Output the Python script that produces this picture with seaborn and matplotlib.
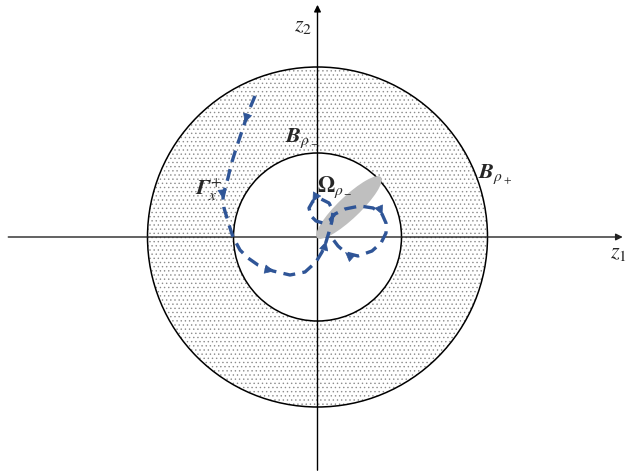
import numpy as np
import seaborn as sns
import matplotlib.pyplot as plt
from matplotlib.patches import Circle, Wedge, Ellipse

sns.set_style('white')
plt.rcParams['mathtext.fontset'] = 'stix'
plt.rcParams['hatch.linewidth'] = 0.5

# radii of the two balls (pixels of the original drawing)
r_minus = 84
r_plus = 170

# gray set Omega: centre, length, width, angle
omega_center = (31.5, 29.5)
omega_len = 88
omega_wid = 22
omega_angle = 43.6

# trajectory (pixel x, pixel y of the original)
path_px = [255, 250, 245, 240, 235, 231, 228, 225, 223, 224, 227, 230, 233,
           240, 248, 258, 273, 290, 305, 316, 322, 326, 329, 332,
           333, 329, 321, 313, 309, 311, 316, 323, 330, 335,
           345, 360, 373, 382, 386, 386, 381, 372, 358, 346, 338, 332]
path_py = [96, 108, 122, 137, 152, 165, 178, 188, 198, 208, 218, 228, 237,
           250, 258, 265, 271, 275, 272, 262, 252, 242, 232, 221,
           211, 203, 199, 201, 208, 216, 221, 223, 220, 214,
           209, 206, 208, 214, 223, 233, 243, 251, 256, 253, 246, 238]
arrow_idx = [2, 8, 16, 21, 27, 37, 43]

cx, cy = 317.5, 237
tx = np.array(path_px) - cx
ty = cy - np.array(path_py)

fig = plt.figure(figsize=(6.28, 4.75), dpi=100)
ax = fig.add_axes([0, 0, 1, 1])
ax.set_xlim(-317.5, 310.5)
ax.set_ylim(-238, 237)
ax.set_aspect('equal')
ax.axis('off')

# dotted annulus
ax.add_patch(Wedge((0, 0), r_plus, 0, 360, width=r_plus - r_minus,
                   facecolor='white', edgecolor='#8c8c8c', lw=0, hatch='....', zorder=1))
ax.add_patch(Circle((0, 0), r_plus, fill=False, ec='black', lw=1.1, zorder=2))
ax.add_patch(Circle((0, 0), r_minus, fill=False, ec='black', lw=1.1, zorder=2))

# axes with arrows
ax.annotate('', xy=(308, 0), xytext=(-312, 0),
            arrowprops=dict(arrowstyle='-|>', color='#222222', lw=1, mutation_scale=10), zorder=3)
ax.annotate('', xy=(0, 235), xytext=(0, -236),
            arrowprops=dict(arrowstyle='-|>', color='black', lw=1, mutation_scale=10), zorder=3)

ax.add_patch(Ellipse(omega_center, omega_len, omega_wid, angle=omega_angle,
                     facecolor='#bfbfbf', edgecolor='none', zorder=4))

blue = '#2f5597'
sns.lineplot(x=tx, y=ty, sort=False, estimator=None, ax=ax, color=blue,
             lw=2.4, linestyle=(0, (3.6, 2.2)), legend=False, zorder=5)
for i in arrow_idx:
    dx, dy = tx[i + 1] - tx[i], ty[i + 1] - ty[i]
    n = np.hypot(dx, dy)
    ax.annotate('', xy=(tx[i] + dx / n, ty[i] + dy / n), xytext=(tx[i], ty[i]),
                arrowprops=dict(arrowstyle='-|>', color=blue, lw=0.5, mutation_scale=15),
                zorder=6)

fs = 16
labels = [
    (-14.5, 211, r'$z_2$'),
    (300.5, -16, r'$z_1$'),
    (178, 63, r'$\mathbfit{B}_{\rho_+}$'),
    (-16, 99, r'$\mathbfit{B}_{\rho_-}$'),
    (17, 50, r'$\mathbf{\Omega}_{\rho_-}$'),
    (-109, 47, r'$\mathbfit{\Gamma}_x^+$'),
]
for x, y, s in labels:
    ax.text(x, y, s, fontsize=fs, ha='center', va='center', zorder=8)

fig.savefig('out.png', dpi=100)
